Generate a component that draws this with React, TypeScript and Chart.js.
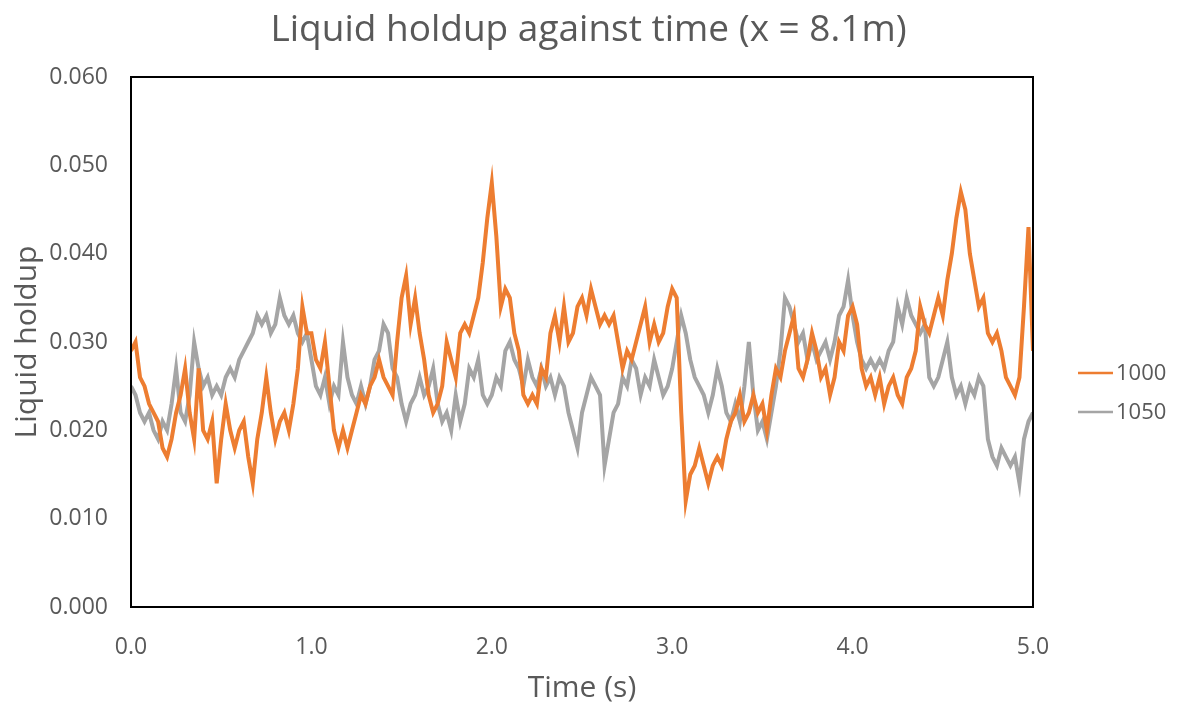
import React, { useEffect, useRef } from "react";
import { Chart, registerables } from "chart.js";

Chart.register(...registerables);

const TITLE = "Liquid holdup against time (x = 8.1m)";
const X_TITLE = "Time (s)";
const Y_TITLE = "Liquid holdup";
const SAMPLE_INTERVAL = 0.025; // s between samples
const SERIES_LABELS = ["1000", "1050"];
const SERIES_COLORS = ["#ED7D31", "#A5A5A5"];
const X_TICKS = [0, 1, 2, 3, 4, 5];
const Y_TICKS = [0, 0.01, 0.02, 0.03, 0.04, 0.05, 0.06];

const holdup1000 = [
  0.029, 0.030, 0.026, 0.025, 0.023, 0.022, 0.021, 0.018, 0.017, 0.019,
  0.022, 0.024, 0.027, 0.022, 0.019, 0.027, 0.020, 0.019, 0.021, 0.014,
  0.019, 0.023, 0.020, 0.018, 0.020, 0.021, 0.017, 0.014, 0.019, 0.022,
  0.026, 0.022, 0.019, 0.021, 0.022, 0.020, 0.023, 0.027, 0.034, 0.031,
  0.031, 0.028, 0.027, 0.030, 0.025, 0.020, 0.018, 0.020, 0.018, 0.020,
  0.022, 0.024, 0.023, 0.025, 0.026, 0.028, 0.026, 0.025, 0.024, 0.030,
  0.035, 0.0375, 0.032, 0.035, 0.031, 0.028, 0.024, 0.022, 0.023, 0.025,
  0.030, 0.028, 0.026, 0.031, 0.032, 0.031, 0.033, 0.035, 0.039, 0.044,
  0.048, 0.042, 0.034, 0.036, 0.035, 0.031, 0.029, 0.024, 0.023, 0.024,
  0.023, 0.027, 0.026, 0.031, 0.033, 0.030, 0.034, 0.030, 0.031, 0.034,
  0.035, 0.033, 0.036, 0.034, 0.032, 0.033, 0.032, 0.033, 0.030, 0.027,
  0.029, 0.028, 0.030, 0.032, 0.034, 0.030, 0.032, 0.030, 0.031, 0.034,
  0.036, 0.035, 0.022, 0.012, 0.015, 0.016, 0.018, 0.016, 0.014, 0.016,
  0.017, 0.016, 0.019, 0.021, 0.022, 0.024, 0.021, 0.022, 0.024, 0.022,
  0.023, 0.020, 0.024, 0.027, 0.026, 0.029, 0.031, 0.033, 0.027, 0.026,
  0.028, 0.031, 0.029, 0.026, 0.027, 0.024, 0.026, 0.030, 0.029, 0.033,
  0.034, 0.032, 0.027, 0.025, 0.026, 0.024, 0.026, 0.023, 0.025, 0.026,
  0.024, 0.023, 0.026, 0.027, 0.029, 0.034, 0.032, 0.031, 0.033, 0.035,
  0.033, 0.037, 0.040, 0.044, 0.047, 0.045, 0.040, 0.037, 0.034, 0.035,
  0.031, 0.030, 0.031, 0.029, 0.026, 0.025, 0.024, 0.026, 0.034, 0.043,
  0.029,
];

const holdup1050 = [
  0.025, 0.024, 0.022, 0.021, 0.022, 0.020, 0.019, 0.021, 0.020, 0.023,
  0.027, 0.022, 0.021, 0.024, 0.030, 0.027, 0.025, 0.026, 0.024, 0.025,
  0.024, 0.026, 0.027, 0.026, 0.028, 0.029, 0.030, 0.031, 0.033, 0.032,
  0.033, 0.031, 0.032, 0.035, 0.033, 0.032, 0.033, 0.031, 0.030, 0.031,
  0.028, 0.025, 0.024, 0.026, 0.023, 0.025, 0.024, 0.030, 0.026, 0.024,
  0.023, 0.025, 0.023, 0.025, 0.028, 0.029, 0.032, 0.031, 0.027, 0.026,
  0.023, 0.021, 0.023, 0.024, 0.026, 0.024, 0.025, 0.027, 0.023, 0.021,
  0.022, 0.020, 0.024, 0.021, 0.023, 0.027, 0.026, 0.028, 0.024, 0.023,
  0.024, 0.026, 0.025, 0.029, 0.030, 0.028, 0.027, 0.025, 0.028, 0.026,
  0.025, 0.027, 0.025, 0.026, 0.024, 0.026, 0.025, 0.022, 0.020, 0.018,
  0.022, 0.024, 0.026, 0.025, 0.024, 0.016, 0.019, 0.022, 0.023, 0.026,
  0.025, 0.028, 0.027, 0.024, 0.026, 0.025, 0.028, 0.026, 0.024, 0.025,
  0.027, 0.030, 0.033, 0.031, 0.028, 0.026, 0.025, 0.024, 0.022, 0.024,
  0.027, 0.025, 0.022, 0.021, 0.023, 0.021, 0.025, 0.030, 0.024, 0.020,
  0.021, 0.019, 0.022, 0.025, 0.029, 0.035, 0.034, 0.032, 0.030, 0.031,
  0.028, 0.030, 0.028, 0.029, 0.030, 0.028, 0.030, 0.033, 0.034, 0.037,
  0.033, 0.030, 0.028, 0.027, 0.028, 0.027, 0.028, 0.027, 0.029, 0.030,
  0.034, 0.032, 0.035, 0.033, 0.032, 0.031, 0.032, 0.026, 0.025, 0.026,
  0.028, 0.030, 0.026, 0.024, 0.025, 0.023, 0.025, 0.024, 0.026, 0.025,
  0.019, 0.017, 0.016, 0.018, 0.017, 0.016, 0.017, 0.014, 0.019, 0.021,
  0.022,
];

const FONT = "'Open Sans', 'Noto Sans', sans-serif";
const TEXT_COLOR = "#595959";

const toPoints = (vals: number[]) =>
  vals.map((v, i) => ({ x: +(i * SAMPLE_INTERVAL).toFixed(3), y: v }));

const frameAndLegend = {
  id: "frameAndLegend",
  afterDraw(chart: any) {
    const { ctx, chartArea } = chart;
    ctx.save();
    ctx.strokeStyle = "#000000";
    ctx.lineWidth = 2;
    ctx.strokeRect(
      chartArea.left,
      chartArea.top,
      chartArea.right - chartArea.left,
      chartArea.bottom - chartArea.top
    );
    // legend
    const startX = 1078;
    const lineLen = 35;
    const rows = [373, 412];
    ctx.font = `22px ${FONT}`;
    ctx.textBaseline = "middle";
    ctx.textAlign = "left";
    chart.data.datasets.forEach((ds: any, i: number) => {
      const y = rows[i];
      ctx.strokeStyle = ds.borderColor;
      ctx.lineWidth = 2.5;
      ctx.beginPath();
      ctx.moveTo(startX, y);
      ctx.lineTo(startX + lineLen, y);
      ctx.stroke();
      ctx.fillStyle = TEXT_COLOR;
      ctx.fillText(ds.label, startX + lineLen + 3, y + 1);
    });
    ctx.restore();
  },
};

export default function App() {
  const ref = useRef<HTMLCanvasElement | null>(null);
  useEffect(() => {
    if (!ref.current) return;
    const chart = new Chart(ref.current, {
      type: "line",
      data: {
        datasets: [
          {
            label: SERIES_LABELS[0],
            data: toPoints(holdup1000),
            borderColor: SERIES_COLORS[0],
            backgroundColor: SERIES_COLORS[0],
            borderWidth: 4,
            pointRadius: 0,
            tension: 0,
            yAxisID: "y",
          },
          {
            label: SERIES_LABELS[1],
            data: toPoints(holdup1050),
            borderColor: SERIES_COLORS[1],
            backgroundColor: SERIES_COLORS[1],
            borderWidth: 4,
            pointRadius: 0,
            tension: 0,
            yAxisID: "y",
          },
        ],
      },
      options: {
        responsive: false,
        animation: false,
        layout: { padding: 0 },
        plugins: {
          legend: { display: false },
          tooltip: { enabled: false },
          title: {
            display: true,
            text: TITLE,
            color: TEXT_COLOR,
            font: { family: FONT, size: 37, weight: "normal", lineHeight: 1.2 },
            padding: { top: 8, bottom: 24.6 },
          },
        },
        scales: {
          x: {
            type: "linear",
            min: 0,
            max: 5,
            afterFit: (s: any) => {
              s.height = 102;
            },
            afterBuildTicks: (s: any) => {
              s.ticks = X_TICKS.map((v) => ({ value: v }));
            },
            grid: { display: false, drawTicks: false },
            border: { display: false },
            ticks: {
              color: TEXT_COLOR,
              font: { family: FONT, size: 23 },
              padding: 27,
              maxRotation: 0,
              callback: (v: any) => Number(v).toFixed(1),
            },
            title: {
              display: true,
              text: X_TITLE,
              color: TEXT_COLOR,
              font: { family: FONT, size: 30 },
              padding: { top: 0, bottom: 3 },
            },
          },
          y: {
            type: "linear",
            position: "left",
            min: 0,
            max: 0.06,
            afterFit: (s: any) => {
              s.width = 131;
            },
            afterBuildTicks: (s: any) => {
              s.ticks = Y_TICKS.map((v) => ({ value: v }));
            },
            grid: { display: false, drawTicks: false },
            border: { display: false },
            ticks: {
              color: TEXT_COLOR,
              font: { family: FONT, size: 23 },
              padding: 23,
              callback: (v: any) => Number(v).toFixed(3),
            },
            title: {
              display: true,
              text: Y_TITLE,
              color: TEXT_COLOR,
              font: { family: FONT, size: 30 },
              padding: { top: 9, bottom: 0 },
            },
          },
          legendSpace: {
            type: "linear",
            position: "right",
            display: true,
            min: 0,
            max: 1,
            afterFit: (s: any) => {
              s.width = 144;
            },
            grid: { display: false, drawTicks: false },
            border: { display: false },
            ticks: { display: false },
          },
        },
      },
      plugins: [frameAndLegend],
    });
    return () => chart.destroy();
  }, []);
  return (
    <div style={{ position: "fixed", left: 0, top: 0, width: 1177, height: 709, background: "#fff" }}>
      <canvas ref={ref} width={1177} height={709} style={{ display: "block" }} />
    </div>
  );
}
